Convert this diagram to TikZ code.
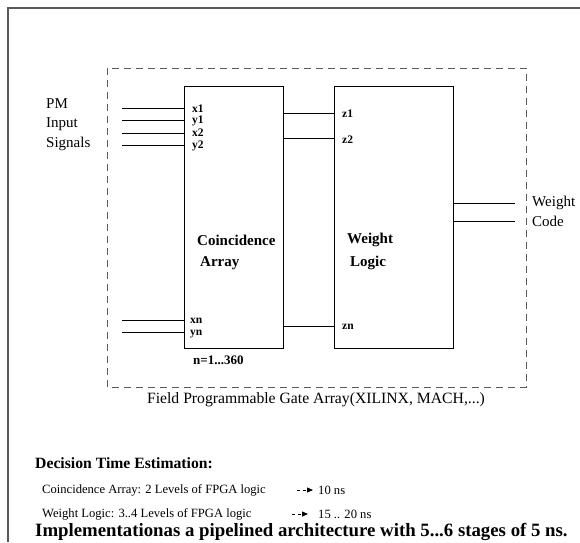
\documentclass[tikz,border=0pt]{standalone}
\usepackage{fontspec}
\setmainfont{Liberation Serif}
\usetikzlibrary{arrows.meta}
\begin{document}
\begin{tikzpicture}[x=1pt,y=-1pt,
  blk/.style={draw=black,line width=0.9pt},
  wire/.style={draw=black,line width=0.8pt},
  pin/.style={font=\fontsize{11.5}{11.5}\selectfont\bfseries,anchor=west,inner sep=0pt},
  lbl/.style={font=\fontsize{15}{15}\selectfont,anchor=west,inner sep=0pt},
  blbl/.style={font=\fontsize{15}{15}\selectfont\bfseries,anchor=west,inner sep=0pt},
  txt/.style={anchor=west,inner sep=0pt}]
\useasboundingbox (0,0) rectangle (580,542);
% outer frame
\draw[line width=1.5pt,draw=black!65] (8,542) -- (8,8) -- (580,8);
% dashed FPGA box
\draw[dash pattern=on 7pt off 5pt,line width=0.9pt,draw=black!65] (107,68) rectangle (526,387);
% blocks
\node[blk,minimum width=99pt,minimum height=262pt,anchor=north west,inner sep=0pt] (ca) at (184,86) {};
\node[blk,minimum width=119pt,minimum height=262pt,anchor=north west,inner sep=0pt] (wl) at (334,86) {};
% block labels
\node[blbl] (catxt1) at (197,240) {Coincidence};
\node[blbl] (catxt2) at (200,263) {Array};
\node[blbl] (wltxt1) at (347,240) {Weight};
\node[blbl] (wltxt2) at (350,263) {Logic};
% input labels
\node[lbl] (pm) at (46,104) {PM};
\node[lbl] (inp) at (46,124) {Input};
\node[lbl] (sig) at (46,144) {Signals};
% input wires
\coordinate (i1) at (122,108); \coordinate (i2) at (122,120);
\coordinate (i3) at (122,133); \coordinate (i4) at (122,145);
\coordinate (in) at (122,320); \coordinate (iyn) at (122,332);
\draw[wire] (i1) -- (ca.west |- i1);
\draw[wire] (i2) -- (ca.west |- i2);
\draw[wire] (i3) -- (ca.west |- i3);
\draw[wire] (i4) -- (ca.west |- i4);
\draw[wire] (in) -- (ca.west |- in);
\draw[wire] (iyn) -- (ca.west |- iyn);
% pin labels
\node[pin] (px1) at (192,109) {x1};
\node[pin] (py1) at (192,121) {y1};
\node[pin] (px2) at (192,133) {x2};
\node[pin] (py2) at (192,146) {y2};
\node[pin] (pxn) at (190,321) {xn};
\node[pin] (pyn) at (190,334) {yn};
\node[pin,font=\fontsize{13}{13}\selectfont\bfseries] (nr) at (193,360) {n=1...360};
% z wires
\coordinate (z1) at (283,113); \coordinate (z2) at (283,138); \coordinate (zn) at (283,326);
\draw[wire] (z1) -- (wl.west |- z1);
\draw[wire] (z2) -- (wl.west |- z2);
\draw[wire] (zn) -- (wl.west |- zn);
\node[pin] (pz1) at (342,114) {z1};
\node[pin] (pz2) at (342,140) {z2};
\node[pin] (pzn) at (342,327) {zn};
% outputs
\coordinate (o1) at (515,203); \coordinate (o2) at (515,221);
\draw[wire] (wl.east |- o1) -- (o1);
\draw[wire] (wl.east |- o2) -- (o2);
\node[lbl] (wt) at (532,203) {Weight};
\node[lbl] (cd) at (532,221) {Code};
% FPGA caption
\node[inner sep=0pt,font=\fontsize{15.7}{15.7}\selectfont] (fpga) at (316,400) {Field Programmable Gate Array(XILINX, MACH,...)};
% decision time
\node[txt,font=\fontsize{15.7}{15.7}\selectfont\bfseries] (dte) at (35,463) {Decision Time Estimation:};
\node[txt,font=\fontsize{12.6}{12.6}\selectfont] (l1) at (42,490) {Coincidence Array: 2 Levels of FPGA logic};
\node[txt,font=\fontsize{12.6}{12.6}\selectfont] (r1) at (318,490) {10 ns};
\node[txt,font=\fontsize{12.6}{12.6}\selectfont] (l2) at (42,514) {Weight Logic: 3..4 Levels of FPGA logic};
\node[txt,font=\fontsize{12.6}{12.6}\selectfont] (r2) at (318,514) {15 .. 20 ns};
\coordinate (a1s) at (297,490); \coordinate (a1e) at (313,490);
\coordinate (a2s) at (292,514); \coordinate (a2e) at (308,514);
\draw[line width=0.8pt,dash pattern=on 3pt off 3pt,-{Triangle[length=6pt,width=5pt]}] (a1s) -- (a1e);
\draw[line width=0.8pt,dash pattern=on 3pt off 3pt,-{Triangle[length=6pt,width=5pt]}] (a2s) -- (a2e);
\node[txt,font=\fontsize{18.8}{18.8}\selectfont\bfseries] (impl) at (35,532) {Implementationas a pipelined architecture with 5...6 stages of 5 ns.};
\end{tikzpicture}
\end{document}
